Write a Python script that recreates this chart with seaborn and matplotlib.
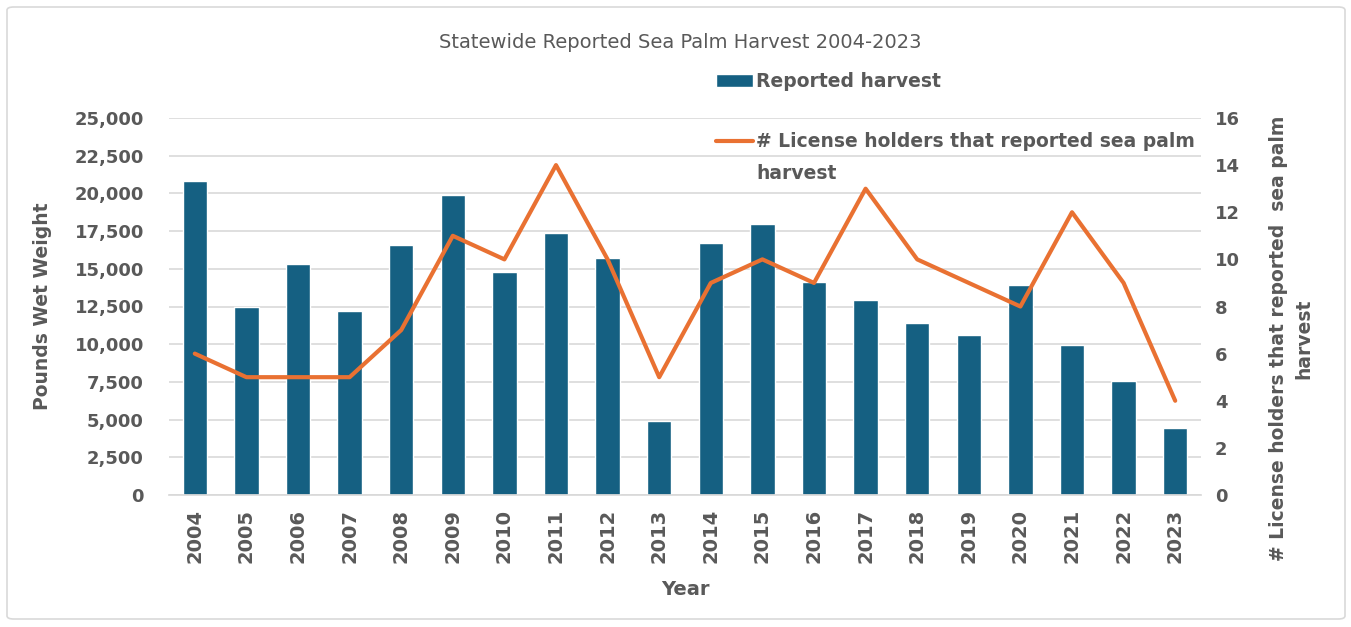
import numpy as np
import pandas as pd
import matplotlib.pyplot as plt
import seaborn as sns
from matplotlib.patches import Patch, FancyBboxPatch
from matplotlib.lines import Line2D
from matplotlib.ticker import FuncFormatter, MultipleLocator

# data
years = [str(y) for y in range(2004, 2024)]
harvest = [20800, 12500, 15300, 12200, 16600, 19900, 14800, 17400, 15700, 4900,
           16700, 18000, 14100, 12900, 11400, 10600, 13900, 9950, 7550, 4450]
holders = [6, 5, 5, 5, 7, 11, 10, 14, 10, 5, 9, 10, 9, 13, 10, 9, 8, 12, 9, 4]

bar_color = "#156082"
line_color = "#E97132"
text_color = "#595959"

sns.set_theme(style="white")
plt.rcParams['font.family'] = ['DejaVu Sans']

df = pd.DataFrame({"Year": years, "Harvest": harvest, "Holders": holders})

fig = plt.figure(figsize=(13.51, 6.27), dpi=100)
ax = fig.add_axes([169 / 1351, 1 - 495 / 627, (1201 - 169) / 1351, (495 - 118) / 627])

# bars: reported harvest
sns.barplot(data=df, x="Year", y="Harvest", color=bar_color, width=0.47,
            saturation=1, ax=ax, zorder=2)
ax.set_ylim(0, 25000)
ax.set_xlim(-0.5, len(years) - 0.5)
ax.yaxis.set_major_locator(MultipleLocator(2500))
ax.yaxis.set_major_formatter(FuncFormatter(lambda v, p: f"{int(v):,}"))
ax.grid(axis="y", color="#d9d9d9", linewidth=1.2, zorder=0)
ax.set_axisbelow(True)
for s in ["top", "right", "left"]:
    ax.spines[s].set_visible(False)
ax.spines["bottom"].set_color("#d9d9d9")
ax.tick_params(axis="x", rotation=90, labelsize=14, colors=text_color, length=0, pad=10)
ax.tick_params(axis="y", labelsize=13, colors=text_color, length=0, pad=18)
for lbl in ax.get_xticklabels() + ax.get_yticklabels():
    lbl.set_fontweight("bold")
ax.set_xlabel("Year", fontsize=14, fontweight="bold", color=text_color, labelpad=12)
ax.set_ylabel("Pounds Wet Weight", fontsize=13.5, fontweight="bold", color=text_color, labelpad=16)

# line: license holders on secondary axis
ax2 = ax.twinx()
sns.lineplot(x=np.arange(len(years)), y=df["Holders"], color=line_color,
             linewidth=3, ax=ax2)
ax2.set_ylim(0, 16)
ax2.yaxis.set_major_locator(MultipleLocator(2))
for s in ["top", "right", "left", "bottom"]:
    ax2.spines[s].set_visible(False)
ax2.tick_params(axis="y", labelsize=13, colors=text_color, length=0, pad=10)
for lbl in ax2.get_yticklabels():
    lbl.set_fontweight("bold")
ax2.set_ylabel("# License holders that reported  sea palm\nharvest", fontsize=13.5,
               fontweight="bold", color=text_color, linespacing=1.45)
ax2.yaxis.set_label_coords(1.066, 0.415)

fig.text(680 / 1351, 1 - 42 / 627, "Statewide Reported Sea Palm Harvest 2004-2023",
         fontsize=14, color=text_color, ha="center", va="center")

# legend: the long label wraps, with the marker next to its first line
handles = [Patch(facecolor=bar_color), Line2D([0], [0], color=line_color, linewidth=3)]
labels = ["Reported harvest", "# License holders that reported sea palm"]
leg = fig.legend(handles, labels, loc="upper left",
                 bbox_to_anchor=(699 / 1351, 1 - 55 / 627), frameon=False,
                 fontsize=13.5, labelspacing=2.2, handlelength=2.0, handletextpad=0.15)
for t in leg.get_texts():
    t.set_color(text_color)
    t.set_fontweight("bold")

fig.canvas.draw()
bb = leg.get_texts()[1].get_window_extent()
fig.text(bb.x0 / fig.bbox.width, (bb.y0 - 32) / fig.bbox.height, "harvest",
         fontsize=13.5, fontweight="bold", color=text_color, ha="left", va="bottom")

border = FancyBboxPatch((7 / 1351, 8 / 627), (1345 - 7) / 1351, (620 - 8) / 627,
                        boxstyle="round,pad=0,rounding_size=0.005",
                        transform=fig.transFigure, fill=False,
                        edgecolor="#d9d9d9", linewidth=1.2)
fig.patches.append(border)

fig.savefig("out.png", dpi=100)
